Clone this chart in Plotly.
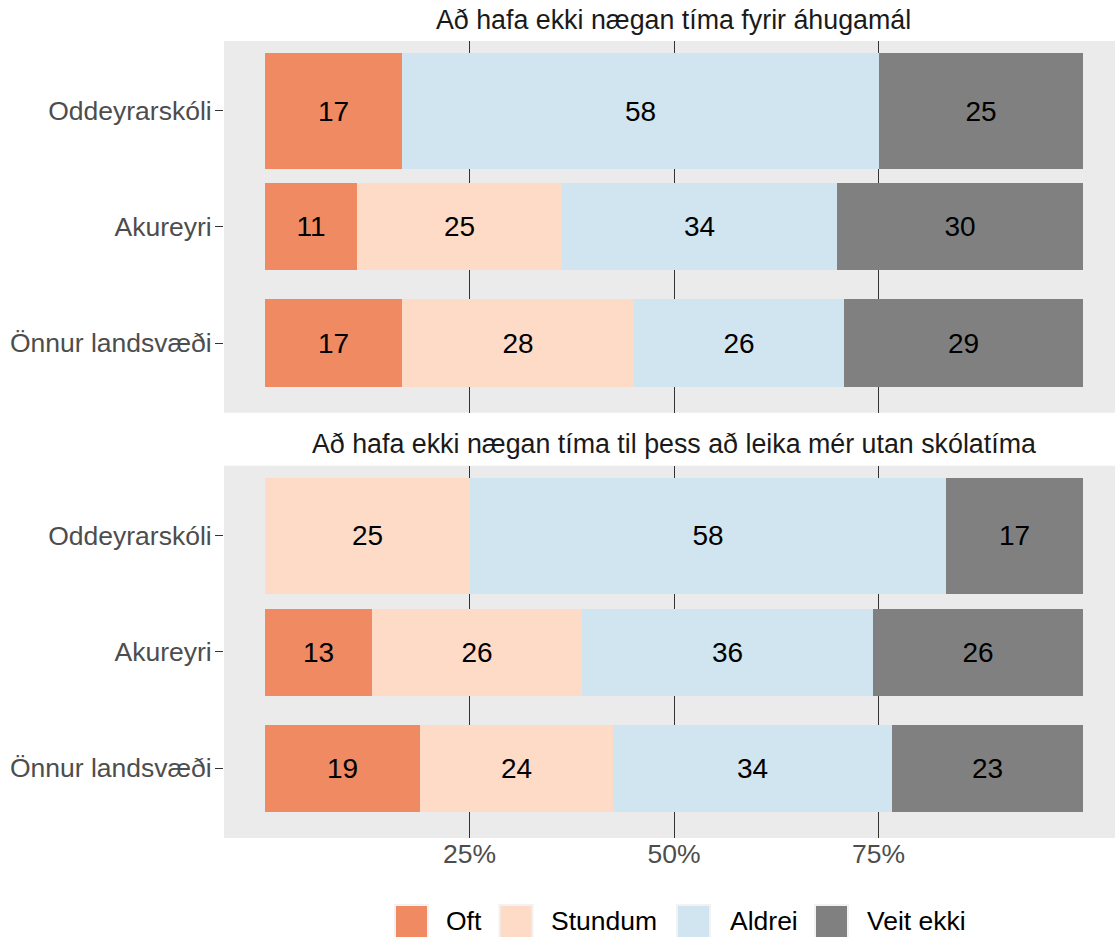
import plotly.graph_objects as go
from plotly.subplots import make_subplots

# ---------------- data ----------------
groups = ["Oddeyrarskóli", "Akureyri", "Önnur landsvæði"]
answers = ["Oft", "Stundum", "Aldrei", "Veit ekki"]
titles = [
    "Að hafa ekki nægan tíma fyrir áhugamál",
    "Að hafa ekki nægan tíma til þess að leika mér utan skólatíma",
]

# question 1 (percent per group, order as in `groups`)
q1_oft = [16.7, 11.2, 16.7]
q1_stundum = [0.0, 25.1, 28.4]
q1_aldrei = [58.3, 33.6, 25.7]
q1_veit = [25.0, 30.1, 29.2]

# question 2
q2_oft = [0.0, 13.1, 18.9]
q2_stundum = [25.0, 25.6, 23.7]
q2_aldrei = [58.3, 35.6, 34.1]
q2_veit = [16.7, 25.7, 23.3]

x_ticks = [25, 50, 75]
x_tick_labels = ["25%", "50%", "75%"]

# ---------------- style ----------------
colors = ["#EF8A62", "#FDDBC7", "#D1E5F0", "#808080"]
bar_widths = [1.0, 0.75, 0.75]
FONT = "Liberation Sans, Arial, sans-serif"
W, H = 1115, 937
ML, MR, MT, MB = 224, 0, 41, 99
PW, PH = W - ML - MR, H - MT - MB


def px_x(p):
    return (p - ML) / PW


def px_y(p):
    return (H - MB - p) / PH


fig = make_subplots(rows=2, cols=1)

facets = [
    [q1_oft, q1_stundum, q1_aldrei, q1_veit],
    [q2_oft, q2_stundum, q2_aldrei, q2_veit],
]

for r, series in enumerate(facets, start=1):
    for name, vals, col in zip(answers, series, colors):
        fig.add_trace(
            go.Bar(
                y=groups,
                x=vals,
                orientation="h",
                name=name,
                marker=dict(color=col, line=dict(width=0)),
                width=bar_widths,
                text=[f"{round(v)}" if v > 0 else "" for v in vals],
                textposition="inside",
                insidetextanchor="middle",
                textangle=0,
                constraintext="none",
                textfont=dict(family=FONT, size=28, color="black"),
                showlegend=False,
                hoverinfo="skip",
            ),
            row=r,
            col=1,
        )

x_range = [-41 / 8.18, 100 + 32 / 8.18]
common_x = dict(
    range=x_range,
    tickmode="array",
    tickvals=x_ticks,
    ticktext=x_tick_labels,
    showgrid=True,
    gridcolor="#333333",
    gridwidth=1,
    zeroline=False,
    showline=False,
    ticks="",
    ticklabelstandoff=-3,
    tickfont=dict(family=FONT, size=26.5, color="#4D4D4D"),
)
common_y = dict(
    categoryorder="array",
    categoryarray=groups[::-1],
    range=[-0.6, 2.6],
    showgrid=False,
    zeroline=False,
    showline=False,
    ticks="outside",
    ticklen=8,
    tickwidth=1,
    tickcolor="#333333",
    ticklabelstandoff=-2,
    tickfont=dict(family=FONT, size=26.5, color="#4D4D4D"),
)

fig.update_layout(
    xaxis=dict(common_x, showticklabels=False, anchor="y", matches="x2"),
    xaxis2=dict(common_x, anchor="y2"),
    yaxis=dict(common_y, domain=[px_y(412.7), 1.0], anchor="x"),
    yaxis2=dict(common_y, domain=[0.0, px_y(465.7)], anchor="x2"),
)

fig.update_layout(
    width=W,
    height=H,
    barmode="stack",
    bargap=0,
    plot_bgcolor="#EBEBEB",
    paper_bgcolor="white",
    margin=dict(l=ML, r=MR, t=MT, b=MB, pad=0),
    font=dict(family=FONT, color="#1A1A1A"),
    showlegend=False,
)

# facet titles
for t, cy in zip(titles, [20, 444]):
    fig.add_annotation(
        x=px_x(673.5), y=px_y(cy), xref="paper", yref="paper",
        text=t, showarrow=False, xanchor="center", yanchor="middle",
        font=dict(family=FONT, size=26.8, color="#1A1A1A"),
    )

# legend (drawn manually to get large keys)
key_left = [395, 499.5, 677, 815]
text_left = [444, 549, 728, 865]
for name, col, kx, tx in zip(answers, colors, key_left, text_left):
    fig.add_shape(
        type="rect", xref="paper", yref="paper",
        x0=px_x(kx), x1=px_x(kx + 33), y0=px_y(938), y1=px_y(905),
        fillcolor=col, line=dict(color="#F2F2F2", width=2), layer="above",
    )
    fig.add_annotation(
        x=px_x(tx), y=px_y(921), xref="paper", yref="paper",
        text=name, showarrow=False, xanchor="left", yanchor="middle",
        font=dict(family=FONT, size=26.5, color="black"),
    )

fig.write_html(
    "out.html",
    config={"displayModeBar": False},
    post_script="document.body.style.margin='0';document.body.style.overflow='hidden';",
)
